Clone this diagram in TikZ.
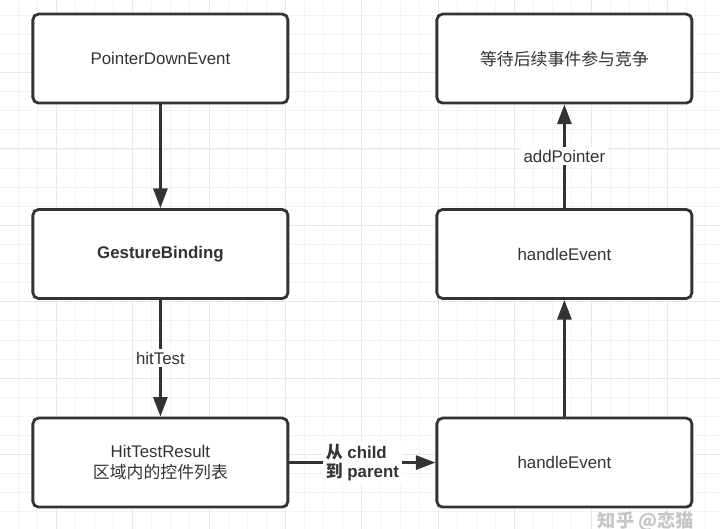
\documentclass[tikz,border=0pt]{standalone}
\usepackage{fontspec}
\setmainfont{Liberation Sans}
\newfontfamily\cjk{Noto Sans CJK SC}
\usepackage{xcolor}
\definecolor{lineDark}{RGB}{51,51,51}
\definecolor{gridMinor}{RGB}{243,243,243}
\definecolor{gridMajor}{RGB}{232,232,232}
\usetikzlibrary{arrows.meta,positioning}

\begin{document}
\begin{tikzpicture}[
  ebox/.style={rectangle, rounded corners=4pt, draw=lineDark, line width=2pt,
               fill=white, minimum width=6.375cm, minimum height=2.225cm,
               font=\fontsize{12}{15}\selectfont, align=center, text=lineDark},
  earr/.style={-{Triangle[length=14pt, width=10pt]}, line width=2pt, draw=lineDark},
  elabel/.style={fill=white, inner sep=2pt, font=\fontsize{12}{15}\selectfont,
                 text=lineDark, align=left}
]
% Canvas and grid
\useasboundingbox (0,0) rectangle (18,13.225);
\begin{scope}
  \clip (0,0) rectangle (18,13.225);
  \fill[white] (0,0) rectangle (18,13.225);
  \draw[gridMinor, line width=0.6pt, shift={(0.45,0.4275)}, step=0.4775] (-1,-1) grid (18,14);
  \draw[gridMajor, line width=0.7pt, shift={(1.405,1.86)}, step=1.91] (-2,-2) grid (18,14);
\end{scope}

% Left column
\node[ebox] (pde) at (4.01,11.76) {PointerDownEvent};
\node[ebox] (gb)  at (4.01,6.875) {\textbf{GestureBinding}};
\node[ebox] (htr) at (4.01,1.66)  {HitTestResult\\{\cjk 区域内的控件列表}};

% Right column
\node[ebox] (wait) at (14.11,11.76) {\cjk 等待后续事件参与竞争};
\node[ebox] (he2)  at (14.11,6.875) {handleEvent};
\node[ebox] (he1)  at (14.11,1.66)  {handleEvent};

% Arrows
\draw[earr] (pde.south) -- (gb.north);
\draw[earr] (gb.south) -- node[elabel] {hitTest} (htr.north);
\draw[earr] (htr.east) -- node[elabel, font=\fontsize{12}{14}\selectfont\bfseries] {{\cjk 从} child\\{\cjk 到} parent} (he1.west);
\draw[earr] (he1.north) -- (he2.south);
\draw[earr] (he2.north) -- node[elabel] {addPointer} (wait.south);

% Watermark
\node[text=gray!45, font=\cjk\fontsize{13}{15}\selectfont\bfseries] (mark) at (16.15,0.2) {知乎 @恋猫};
\end{tikzpicture}
\end{document}
